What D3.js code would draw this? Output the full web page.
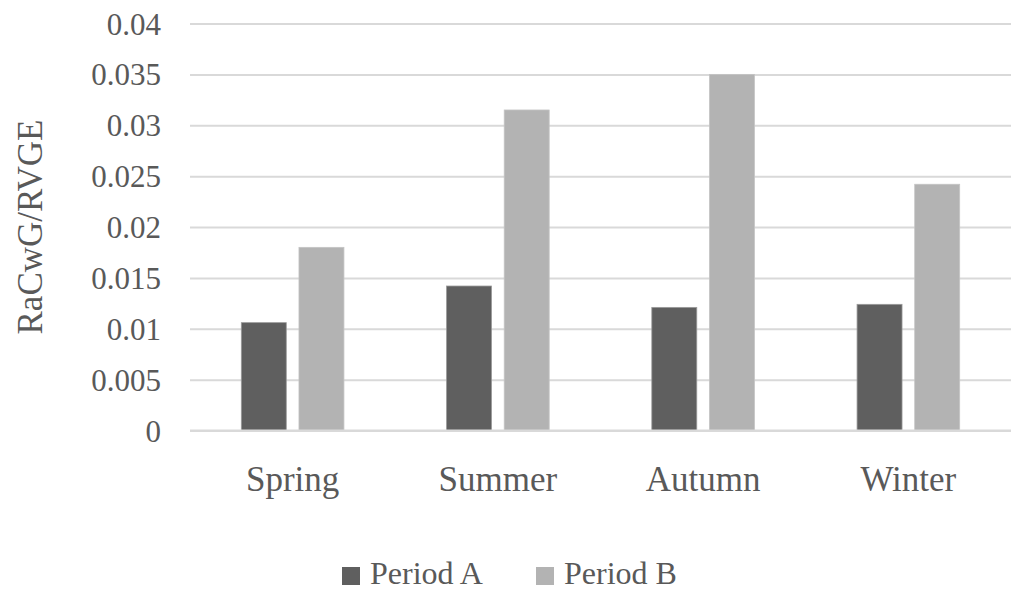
<!DOCTYPE html>
<html>
<head>
<meta charset="utf-8">
<script src="https://cdn.jsdelivr.net/npm/d3@7"></script>
<style>
  html, body { margin: 0; padding: 0; background: #fff; }
  svg { display: block; }
  text { font-family: "Liberation Serif", "Times New Roman", serif; fill: #595959; }
</style>
</head>
<body>
<svg id="chart" width="1014" height="592"></svg>
<script>
const categories = ["Spring", "Summer", "Autumn", "Winter"];
const seriesNames = ["Period A", "Period B"];
const periodA = [0.0106, 0.0142, 0.0121, 0.0124];
const periodB = [0.0180, 0.0315, 0.0350, 0.0242];
const yTicks = [0, 0.005, 0.01, 0.015, 0.02, 0.025, 0.03, 0.035, 0.04];
const yTickLabels = ["0", "0.005", "0.01", "0.015", "0.02", "0.025", "0.03", "0.035", "0.04"];
const colors = ["#5f5f5f", "#b3b3b3"];
const yTitle = "RaCwG/RVGE";

const svg = d3.select("#chart");
const plot = { left: 190, right: 1011, top: 23.5, bottom: 430.5 };

const y = d3.scaleLinear().domain([0, 0.04]).range([plot.bottom, plot.top]);
const x0 = d3.scaleBand().domain(categories).range([plot.left, plot.right]).paddingInner(0.5).paddingOuter(0.25);
const x1 = d3.scaleBand().domain(seriesNames).range([0, x0.bandwidth()]).paddingInner(0.22);

// gridlines
const yAxis = d3.axisLeft(y).tickValues(yTicks).tickSize(-(plot.right - plot.left))
  .tickFormat((d, i) => yTickLabels[i]).tickPadding(29);
const gy = svg.append("g").attr("transform", `translate(${plot.left},0)`).call(yAxis);
gy.select(".domain").remove();
gy.selectAll(".tick line").attr("stroke", "#d9d9d9").attr("stroke-width", 2);
gy.selectAll(".tick text").attr("font-size", 31).attr("fill", "#595959")
  .attr("font-family", "Liberation Serif, serif").attr("dy", "0.34em");

// bars
const data = categories.map((c, i) => ({ cat: c, vals: [periodA[i], periodB[i]] }));
const groups = svg.append("g").selectAll("g").data(data).join("g")
  .attr("transform", d => `translate(${x0(d.cat)},0)`);
groups.selectAll("rect").data(d => d.vals.map((v, j) => ({ s: seriesNames[j], v, j })))
  .join("rect")
  .attr("x", d => x1(d.s))
  .attr("width", x1.bandwidth())
  .attr("y", d => y(d.v))
  .attr("height", d => y(0) - y(d.v))
  .attr("fill", d => colors[d.j])
  .attr("stroke", d => d.j === 0 ? "#9a9a9a" : "#c4c4c4")
  .attr("stroke-width", 0.8);

// zero line on top
svg.append("line").attr("x1", plot.left).attr("x2", plot.right)
  .attr("y1", y(0)).attr("y2", y(0)).attr("stroke", "#d9d9d9").attr("stroke-width", 2);

// x axis labels
const xAxis = d3.axisBottom(x0).tickSize(0).tickPadding(36);
const gx = svg.append("g").attr("transform", `translate(0,${plot.bottom})`).call(xAxis);
gx.select(".domain").remove();
gx.selectAll(".tick text").attr("font-size", 35).attr("fill", "#595959")
  .attr("font-family", "Liberation Serif, serif");

// y title
svg.append("text")
  .attr("transform", `translate(42,227) rotate(-90)`)
  .attr("text-anchor", "middle")
  .attr("font-size", 35)
  .text(yTitle);

// legend
const legendX = [342, 536];
const legend = svg.append("g").selectAll("g").data(seriesNames).join("g")
  .attr("transform", (d, i) => `translate(${legendX[i]},0)`);
legend.append("rect").attr("x", 0).attr("y", 567).attr("width", 18).attr("height", 18)
  .attr("fill", (d, i) => colors[i]);
legend.append("text").attr("x", 28).attr("y", 584).attr("font-size", 32).text(d => d);
</script>
</body>
</html>
